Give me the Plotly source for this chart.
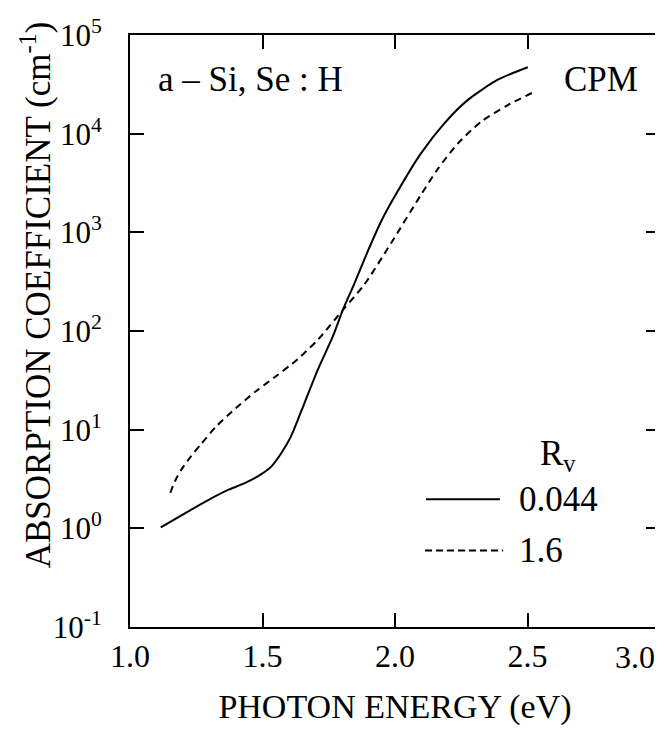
import plotly.graph_objects as go

# Rv = 0.044 (solid)
energy_solid = [1.116, 1.217, 1.305, 1.368, 1.431, 1.494, 1.532, 1.570, 1.607, 1.658,
                1.708, 1.765, 1.803, 1.847, 1.897, 1.947, 1.998, 2.098, 2.187, 2.275,
                2.388, 2.501]
alpha_solid = [1.02, 1.47, 2.0, 2.44, 2.85, 3.52, 4.2, 5.74, 8.5, 18.5,
               40.2, 87.5, 163, 304, 640, 1280, 2290, 6310, 12800, 22000,
               35200, 47100]

# Rv = 1.6 (dashed)
energy_dashed = [1.152, 1.170, 1.195, 1.230, 1.267, 1.324, 1.40, 1.48, 1.557, 1.601,
                 1.633, 1.708, 1.803, 1.884, 1.985, 2.098, 2.161, 2.237, 2.325, 2.426,
                 2.520]
alpha_dashed = [2.29, 3.02, 3.98, 5.37, 7.08, 10.7, 16.6, 25.1, 35.8, 44.2,
                51.9, 81.1, 163, 295, 776, 2400, 4370, 7940, 13200, 19500,
                26100]

x_tick_vals = [1.0, 1.5, 2.0, 2.5, 3.0]
x_tick_text = ["1.0", "1.5", "2.0", "2.5", ""]
x_last_label = "3.0"
y_tick_vals = [0.1, 1, 10, 100, 1000, 10000, 100000]
y_tick_text = ["10<sup>-1</sup>", "10<sup>0</sup>", "10<sup>1</sup>", "10<sup>2</sup>",
               "10<sup>3</sup>", "10<sup>4</sup>", "10<sup>5</sup>"]

FONT = "Liberation Serif"

fig = go.Figure()
fig.add_trace(go.Scatter(x=energy_solid, y=alpha_solid, mode="lines",
                         line=dict(color="black", width=2, shape="spline", smoothing=0.7),
                         showlegend=False))
fig.add_trace(go.Scatter(x=energy_dashed, y=alpha_dashed, mode="lines",
                         line=dict(color="black", width=2, shape="spline", smoothing=0.7,
                                   dash="7px,5px"),
                         showlegend=False))

axis_common = dict(showline=True, linewidth=2, linecolor="black", mirror="ticks",
                   ticks="inside", ticklen=14, tickwidth=2, tickcolor="black",
                   showgrid=False, zeroline=False, automargin=False,
                   ticklabeloverflow="allow",
                   tickfont=dict(family=FONT, size=32, color="black"))

fig.update_xaxes(range=[1.0, 3.0], tickvals=x_tick_vals, ticktext=x_tick_text,
                 ticklabelstandoff=0,
                 title=dict(text="PHOTON ENERGY (eV)", standoff=21,
                            font=dict(family=FONT, size=34, color="black")),
                 **axis_common)
fig.update_yaxes(type="log", range=[-1, 5], tickvals=y_tick_vals, ticktext=y_tick_text,
                 ticklabelstandoff=20, **axis_common)
fig.update_yaxes(tickfont=dict(family=FONT, size=31, color="black"))

# last x tick label, kept inside the page edge
fig.add_annotation(xref="x", yref="paper", x=3.0, y=0, showarrow=False,
                   text=x_last_label, xanchor="right", yanchor="middle",
                   xshift=-3, yshift=-30,
                   font=dict(family=FONT, size=32, color="black"))

ann_font = dict(family=FONT, size=35, color="black")
annotations = [
    dict(text="a – Si, Se : H", x=0.049, y=0.924, xanchor="left", yanchor="middle"),
    dict(text="CPM", x=0.815, y=0.924, xanchor="left", yanchor="middle"),
    dict(text="R<sub>v</sub>", x=0.8075, y=0.289, xanchor="center", yanchor="middle"),
    dict(text="0.044", x=0.730, y=0.216, xanchor="left", yanchor="middle"),
    dict(text="1.6", x=0.730, y=0.129, xanchor="left", yanchor="middle"),
]
for a in annotations:
    fig.add_annotation(xref="paper", yref="paper", showarrow=False, font=ann_font, **a)

# y-axis title placed as rotated text
fig.add_annotation(xref="paper", yref="paper", showarrow=False, textangle=-90,
                   text="ABSORPTION COEFFICIENT (cm<sup>-1</sup>)",
                   x=-0.1774, y=0.562, xanchor="center", yanchor="middle",
                   font=dict(family=FONT, size=35, color="black"))

fig.add_shape(type="line", xref="paper", yref="paper", x0=0.5585, x1=0.698, y0=0.216, y1=0.216,
              line=dict(color="black", width=2))
fig.add_shape(type="line", xref="paper", yref="paper", x0=0.5566, x1=0.704, y0=0.1294, y1=0.1294,
              line=dict(color="black", width=2, dash="7px,4px"))

fig.update_layout(width=663, height=730, margin=dict(l=122, r=11, t=27, b=111),
                  plot_bgcolor="white", paper_bgcolor="white",
                  font=dict(family=FONT, color="black"))

fig.write_html("out.html")
